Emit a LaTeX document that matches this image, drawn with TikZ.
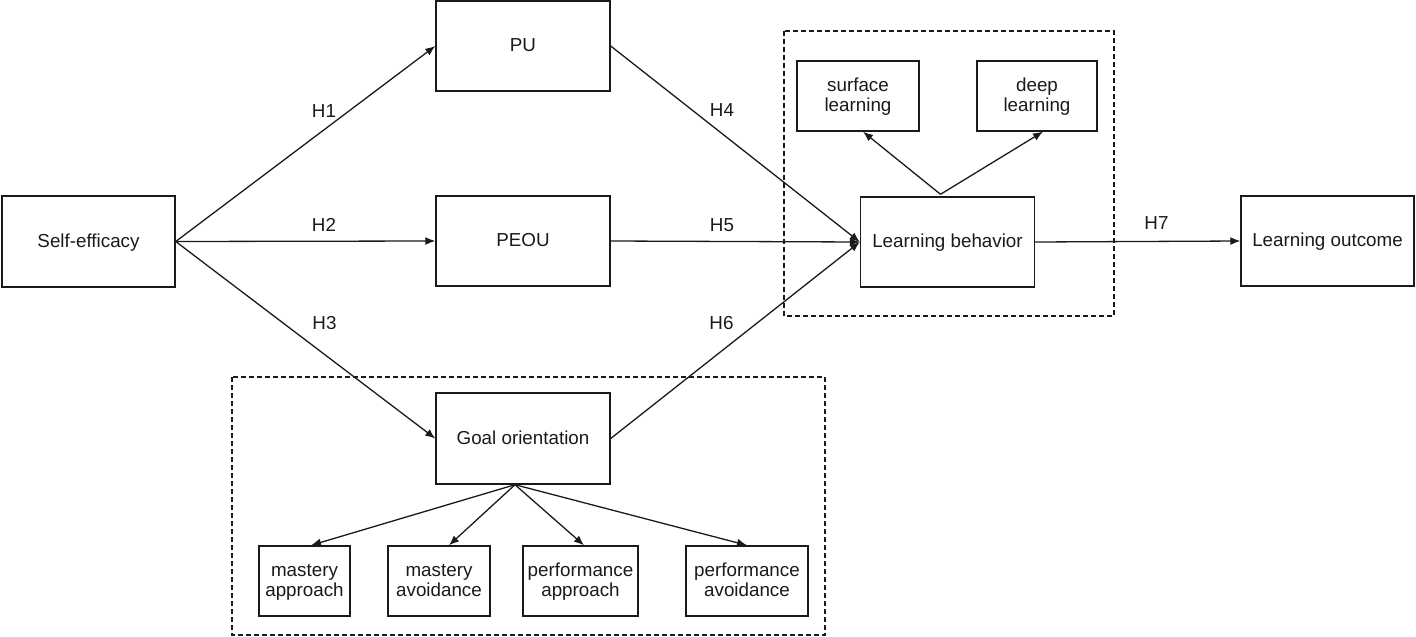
\documentclass[tikz,border=0pt]{standalone}
\usepackage{fontspec}
\setmainfont{Liberation Sans}
\usetikzlibrary{arrows.meta}
\definecolor{ink}{HTML}{1A1A1A}
\newcommand\mystrut{\rule[-4.4pt]{0pt}{20pt}}
\tikzset{
  box/.style={draw=ink, line width=1.4pt, inner sep=0pt, align=center, text=ink,
    font=\fontsize{18.8}{20}\selectfont},
  lbl/.style={inner sep=0pt, text=ink, font=\fontsize{18.8}{20}\selectfont},
  arr/.style={draw=ink, line width=1.3pt, -{Latex[length=10pt,width=8pt]}},
  grp/.style={draw=ink, line width=1.3pt, dash pattern=on 5pt off 3pt}
}
\begin{document}
\begin{tikzpicture}[x=1pt,y=-1pt]
\useasboundingbox (0,0) rectangle (1416,637);
% groups
\draw[grp] (784,31) rectangle (1114,316);
\draw[grp] (232,377) rectangle (825,635);
% main nodes
\node[box, minimum width=173pt, minimum height=91pt] (SE) at (88.5,241.5) {Self-efficacy\mystrut};
\node[box, minimum width=174pt, minimum height=90pt] (PU) at (523,46) {PU\mystrut};
\node[box, minimum width=174pt, minimum height=90pt] (PEOU) at (523,241) {PEOU\mystrut};
\node[box, minimum width=174pt, minimum height=91pt] (GO) at (523,438.5) {Goal orientation\mystrut};
\node[box, minimum width=174pt, minimum height=90pt] (LB) at (947.5,242) {Learning behavior\mystrut};
\node[box, minimum width=173pt, minimum height=90pt] (LO) at (1327.5,241) {Learning outcome\mystrut};
\node[box, minimum width=122pt, minimum height=70pt] (SL) at (858,96) {surface\mystrut\\learning\mystrut};
\node[box, minimum width=120pt, minimum height=70pt] (DL) at (1037,96) {deep\mystrut\\learning\mystrut};
\node[box, minimum width=91pt, minimum height=70pt] (MA) at (304.5,581) {mastery\mystrut\\approach\mystrut};
\node[box, minimum width=102pt, minimum height=70pt] (MAV) at (439,581) {mastery\mystrut\\avoidance\mystrut};
\node[box, minimum width=115pt, minimum height=70pt] (PA) at (580.5,581) {performance\mystrut\\approach\mystrut};
\node[box, minimum width=122pt, minimum height=70pt] (PAV) at (747,581) {performance\mystrut\\avoidance\mystrut};
% labels
\node[lbl] (H1) at (324,111) {H1};
\node[lbl] (H2) at (324,225) {H2};
\node[lbl] (H3) at (324.5,323) {H3};
\node[lbl] (H4) at (722,110) {H4};
\node[lbl] (H5) at (722,225.5) {H5};
\node[lbl] (H6) at (721.5,323) {H6};
\node[lbl] (H7) at (1156.5,223.5) {H7};
% connectors
\draw[arr] (SE.east) -- (PU.west);
\draw[arr] (SE.east) -- (PEOU.west);
\draw[arr] (SE.east) -- (GO.west);
\draw[arr] (PU.east) -- (LB.west);
\draw[arr] (PEOU.east) -- (LB.west);
\draw[arr] (GO.east) -- (LB.west);
\draw[arr] (LB.east) -- (LO.west);
\coordinate (LBtop) at ([xshift=-7pt,yshift=2pt]LB.north);
\draw[arr] (LBtop) -- ([xshift=5pt]SL.south);
\draw[arr] (LBtop) -- ([xshift=6pt]DL.south);
\coordinate (GObot) at ([xshift=-8pt]GO.south);
\draw[arr] (GObot) -- ([xshift=6.5pt]MA.north);
\draw[arr] (GObot) -- ([xshift=10pt]MAV.north);
\draw[arr] (GObot) -- ([xshift=3.5pt]PA.north);
\draw[arr] (GObot) -- (PAV.north);
\end{tikzpicture}
\end{document}
